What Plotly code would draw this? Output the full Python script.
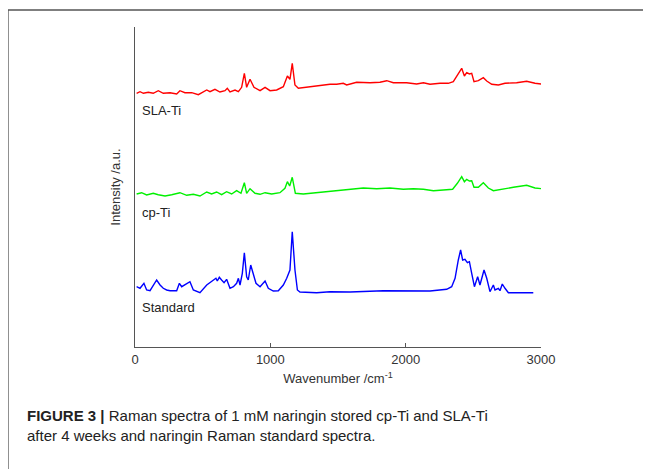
import plotly.graph_objects as go

# spectra (wavenumber /cm-1, intensity in arbitrary offset units)
sla_wn = [12, 37, 62, 98, 135, 172, 209, 259, 308, 332, 369, 419, 468, 505, 530, 554, 591, 628, 665, 682,
          702, 739, 764, 788, 808, 825, 850, 879, 924, 961, 998, 1047, 1096, 1126, 1145, 1162, 1182, 1207,
          1268, 1342, 1441, 1490, 1539, 1564, 1589, 1638, 1737, 1810, 1860, 1909, 2007, 2081, 2131, 2180,
          2254, 2315, 2352, 2382, 2414, 2434, 2451, 2471, 2488, 2505, 2537, 2574, 2599, 2636, 2685, 2734,
          2820, 2894, 2956, 3005]
sla_int = [253.7, 255.3, 253.7, 254.7, 253.7, 256.3, 253.7, 254.3, 253.0, 256.3, 254.3, 254.3, 252.3, 255.0,
           257.0, 255.3, 257.7, 255.0, 256.3, 258.7, 255.0, 257.0, 255.3, 259.7, 273.7, 259.7, 267.7, 259.7,
           256.3, 259.7, 256.3, 257.0, 260.3, 271.0, 267.7, 283.7, 262.0, 258.7, 259.7, 261.0, 262.7, 262.7,
           263.7, 262.0, 263.0, 264.7, 264.3, 264.7, 266.3, 264.3, 264.3, 263.0, 264.3, 262.7, 263.7, 263.7,
           265.3, 272.0, 278.7, 271.0, 274.3, 273.0, 273.7, 265.3, 266.3, 269.3, 266.0, 262.7, 262.0, 263.7,
           264.3, 265.7, 263.7, 263.0]

cp_wn = [12, 49, 86, 135, 172, 222, 271, 332, 382, 431, 480, 530, 566, 603, 640, 677, 714, 751, 783, 808,
         825, 850, 887, 924, 961, 1010, 1071, 1108, 1126, 1143, 1162, 1185, 1244, 1342, 1441, 1515, 1539,
         1589, 1613, 1687, 1786, 1884, 1983, 2057, 2131, 2205, 2278, 2347, 2382, 2414, 2434, 2451, 2471,
         2488, 2505, 2537, 2574, 2611, 2648, 2722, 2796, 2894, 2956, 3005]
cp_int = [153.0, 154.3, 152.0, 153.7, 152.3, 151.0, 152.3, 154.3, 151.7, 152.7, 151.0, 155.0, 153.0, 155.0,
          152.3, 155.3, 153.0, 156.3, 153.7, 164.3, 153.7, 158.3, 153.7, 152.7, 154.3, 153.0, 154.3, 158.7,
          165.3, 161.0, 169.7, 153.7, 153.0, 154.3, 155.3, 156.3, 157.0, 157.7, 157.7, 159.0, 158.3, 159.0,
          157.7, 158.3, 157.7, 156.3, 157.0, 157.7, 163.7, 170.3, 165.3, 167.7, 166.0, 166.3, 159.7, 159.7,
          164.3, 159.0, 156.3, 158.3, 159.7, 161.7, 159.0, 158.3]

std_wn = [12, 37, 66, 86, 111, 160, 185, 209, 234, 259, 308, 328, 345, 369, 406, 431, 480, 530, 554, 579,
          598, 608, 623, 640, 658, 677, 702, 727, 751, 764, 776, 793, 808, 825, 837, 855, 874, 894, 924,
          961, 985, 1022, 1059, 1096, 1121, 1145, 1162, 1182, 1200, 1219, 1342, 1441, 1589, 1835, 2180,
          2303, 2340, 2365, 2389, 2406, 2421, 2438, 2456, 2471, 2488, 2508, 2532, 2549, 2579, 2599, 2623,
          2648, 2660, 2685, 2697, 2714, 2734, 2759, 2943]
std_int = [60.3, 58.7, 63.7, 57.0, 56.3, 67.0, 62.0, 58.7, 57.0, 56.3, 56.3, 63.7, 60.3, 62.0, 65.3, 57.0,
           54.3, 62.0, 64.3, 67.0, 68.7, 66.0, 69.7, 67.0, 64.3, 67.7, 58.7, 60.3, 63.7, 68.7, 62.0, 73.7,
           94.3, 70.3, 67.0, 82.0, 73.7, 63.7, 60.3, 66.0, 58.7, 56.0, 56.3, 62.0, 68.7, 77.0, 115.3, 77.0,
           57.0, 55.0, 54.3, 55.3, 55.0, 56.3, 56.0, 57.7, 60.3, 68.7, 87.0, 97.0, 87.0, 87.7, 84.3, 85.3,
           73.7, 60.3, 70.3, 62.0, 77.0, 68.7, 55.3, 62.0, 57.0, 58.7, 56.3, 63.0, 58.7, 54.3, 54.3]

series_names = ["SLA-Ti", "cp-Ti", "Standard"]
label_y = [237, 135, 40]
x_ticks = [0, 1000, 2000, 3000]

fig = go.Figure()
for wn, inten, col in [(sla_wn, sla_int, "#ff0000"), (cp_wn, cp_int, "#00f000"), (std_wn, std_int, "#0000ff")]:
    fig.add_trace(go.Scatter(x=wn, y=inten, mode="lines", line=dict(color=col, width=1.4), showlegend=False))

for name, yy in zip(series_names, label_y):
    fig.add_annotation(x=40, y=yy, text=name, showarrow=False, xanchor="left", yanchor="middle",
                       font=dict(size=13, color="#222"))

# caption under the chart
fig.add_annotation(xref="paper", yref="paper", x=-0.271, y=-0.18, xanchor="left", yanchor="top", align="left",
                   showarrow=False,
                   text="<b>FIGURE 3 |</b> Raman spectra of 1 mM naringin stored cp-Ti and SLA-Ti<br>"
                        "after 4 weeks and naringin Raman standard spectra.",
                   font=dict(size=15, color="#222"))

# frame around the figure (top and left edges only)
fig.add_shape(type="line", xref="paper", yref="paper", x0=-0.3128, x1=1.3, y0=1.0531, y1=1.0531,
              line=dict(color="#555", width=1.3))
fig.add_shape(type="line", xref="paper", yref="paper", x0=-0.3128, x1=-0.3128, y0=1.0531, y1=-0.4,
              line=dict(color="#555", width=1.3))

# page body has an 8px margin, so the figure is drawn 8px smaller
fig.update_layout(width=643, height=461, margin=dict(l=127, r=110, t=19, b=122),
                  plot_bgcolor="white", paper_bgcolor="white",
                  font=dict(family="Liberation Sans, Arial, sans-serif", color="#333"))
fig.update_xaxes(range=[0, 3000], tickvals=x_ticks, ticks="inside", ticklen=4, tickcolor="#555",
                 showline=True, linecolor="#555", linewidth=1.3, showgrid=False, zeroline=False,
                 tickfont=dict(size=13),
                 title=dict(text="Wavenumber /cm<sup>-1</sup>", font=dict(size=13), standoff=8))
fig.update_yaxes(range=[0, 320], showticklabels=False, ticks="", showline=True, linecolor="#555",
                 linewidth=1.3, showgrid=False, zeroline=False,
                 title=dict(text="Intensity /a.u.", font=dict(size=13), standoff=10))

fig.write_html("out.html")
